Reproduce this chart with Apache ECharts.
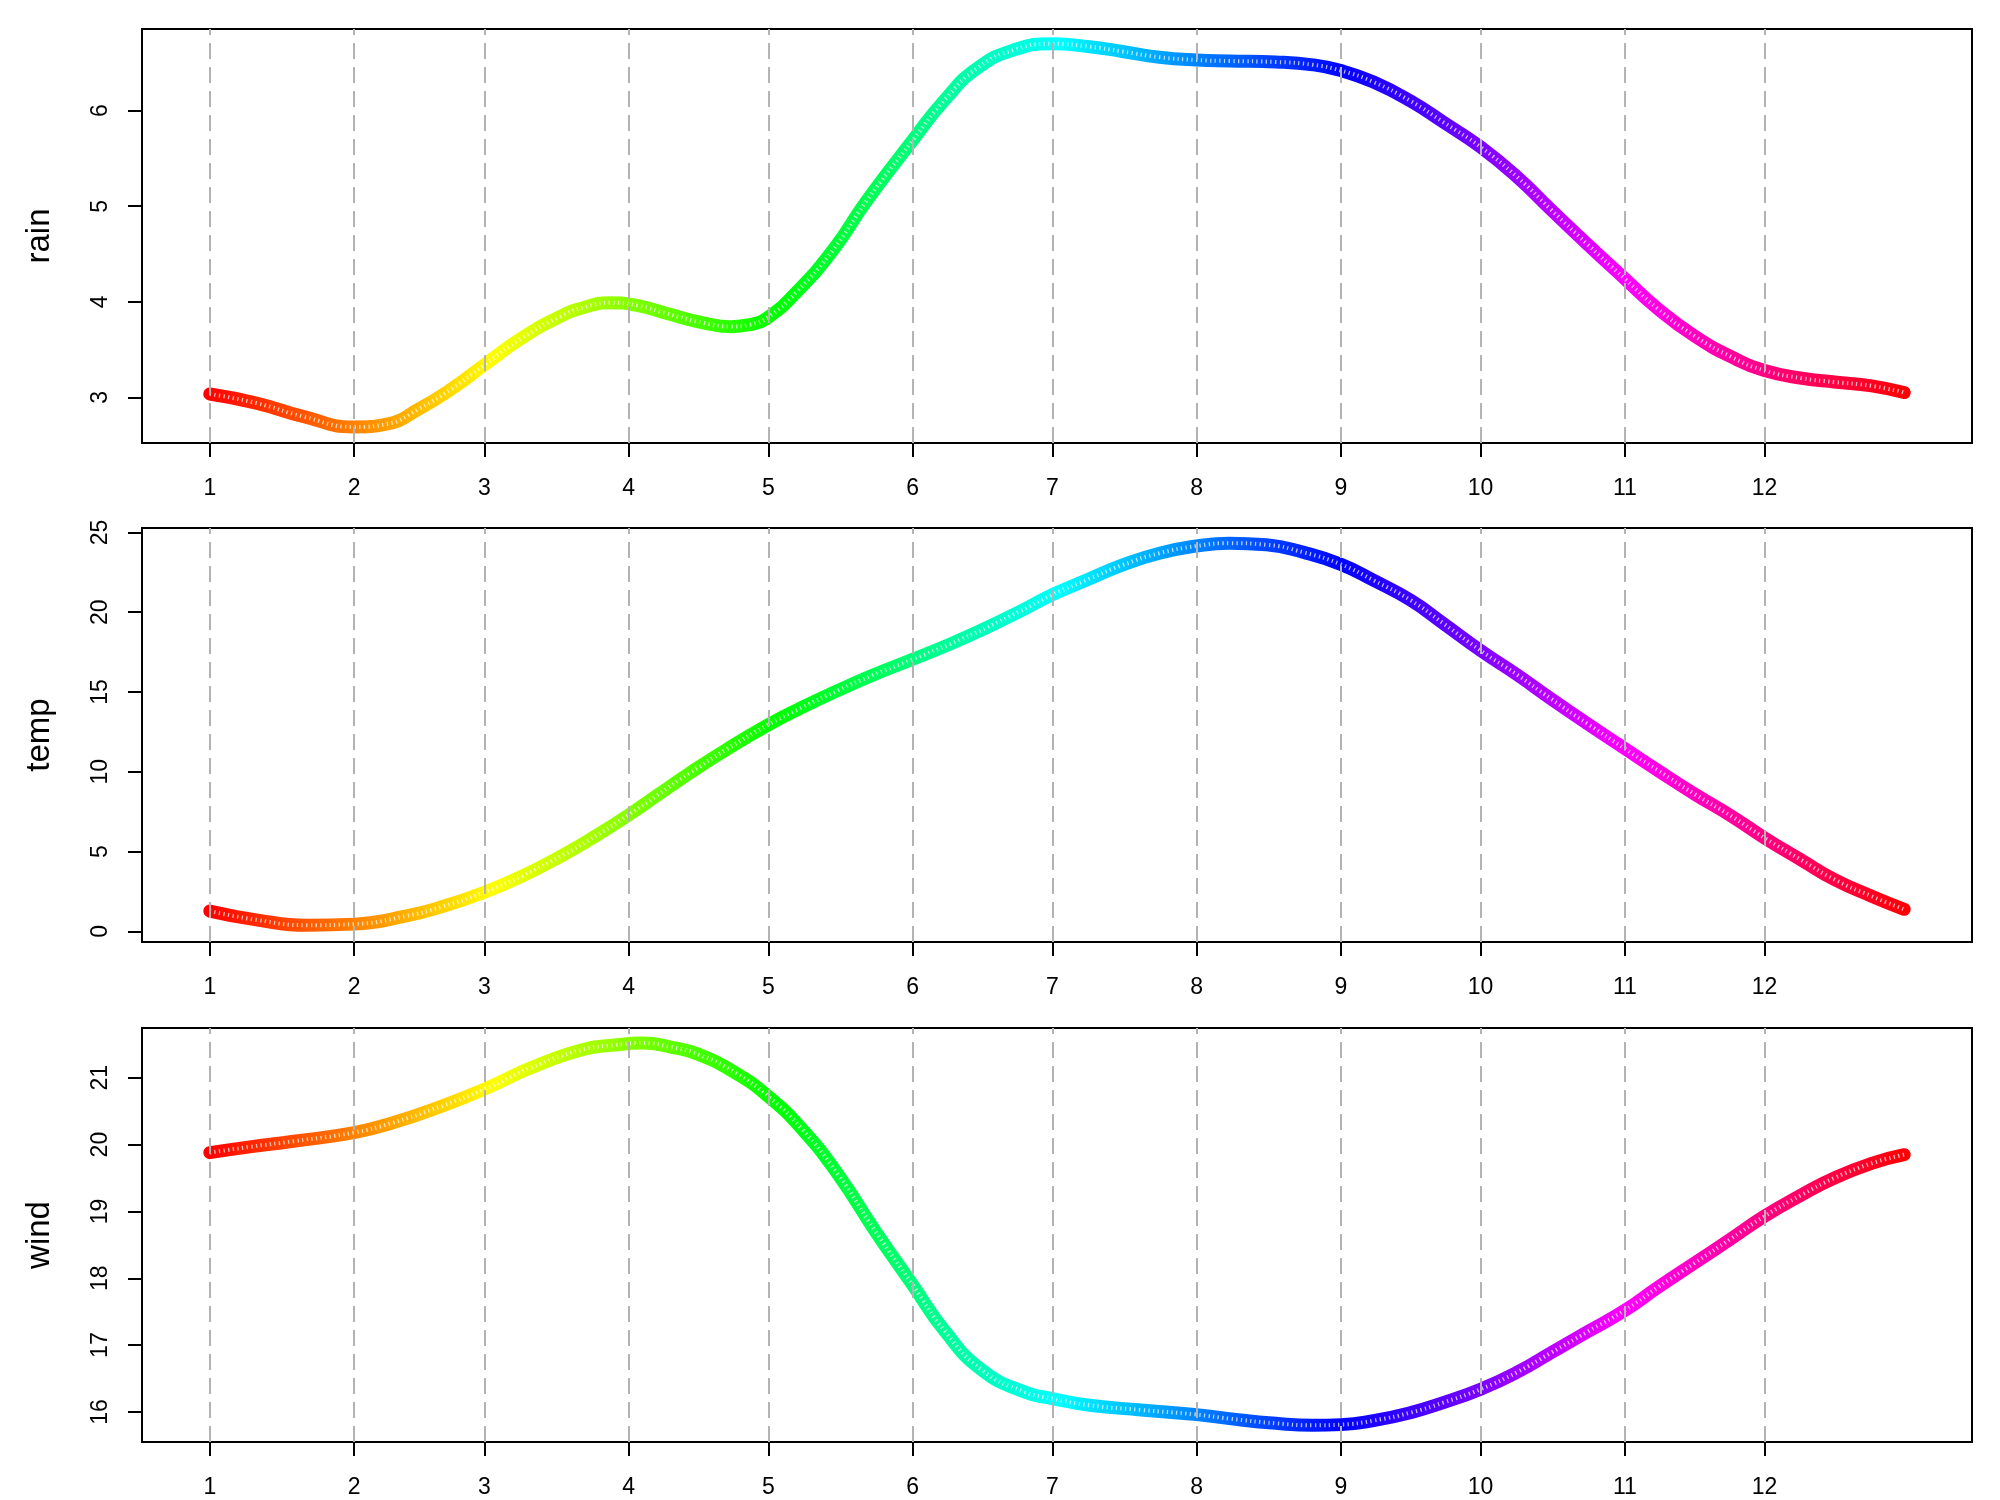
<!DOCTYPE html>
<html>
<head>
<meta charset="utf-8">
<script src="https://cdn.jsdelivr.net/npm/echarts@6/dist/echarts.min.js"></script>
<style>html,body{margin:0;padding:0;background:#fff}#c{width:2000px;height:1500px}</style>
</head>
<body>
<div id="c"></div>
<script>
// month starts (day of year) and their tick labels
const monthStarts = [1, 32, 60, 91, 121, 152, 182, 213, 244, 274, 305, 335];
const monthLabels = ['1','2','3','4','5','6','7','8','9','10','11','12'];

// rain
const rainDays = [1,11,21,32,39,46,53,60,68,76,82,87,93,99,107,113,117,121,127,135,142,152,159,166,174,182,190,197,205,213,220,230,238,244,251,259,266,274,282,289,297,305,312,320,328,335,343,350,358,365];
const rain     = [3.035,2.94,2.80,2.69,2.72,2.88,3.09,3.34,3.62,3.84,3.95,3.99,3.96,3.88,3.78,3.74,3.76,3.84,4.1,4.55,5.05,5.69,6.12,6.45,6.64,6.70,6.67,6.62,6.56,6.53,6.52,6.51,6.48,6.42,6.30,6.10,5.88,5.62,5.30,4.97,4.60,4.24,3.93,3.64,3.42,3.28,3.20,3.16,3.12,3.05];

// temp
const tempDays = [1,11,22,32,43,51,60,68,77,84,91,97,104,112,121,128,136,143,152,160,168,175,182,190,197,205,213,220,228,236,244,251,259,266,274,282,289,297,305,312,320,328,335,343,350,358,365];
const temp     = [1.27,0.72,0.38,0.45,0.95,1.55,2.45,3.45,4.8,6.0,7.3,8.5,9.9,11.4,12.95,14.0,15.1,16.0,17.05,18.0,19.05,20.05,21.1,22.1,22.95,23.7,24.15,24.33,24.23,23.75,23.0,22.0,20.75,19.3,17.6,16.05,14.6,13.0,11.45,10.1,8.6,7.2,5.85,4.45,3.25,2.2,1.38];

// wind
const windDays = [1,10,19,32,40,51,60,70,81,88,94,100,106,114,121,128,136,144,152,159,167,176,182,190,201,213,220,230,238,244,251,259,266,274,282,289,297,305,312,320,328,335,343,350,358,365];
const wind     = [19.88,19.97,20.05,20.18,20.32,20.58,20.83,21.15,21.42,21.49,21.52,21.46,21.35,21.07,20.72,20.25,19.55,18.7,17.9,17.2,16.62,16.3,16.2,16.1,16.03,15.96,15.9,15.83,15.80,15.81,15.87,15.99,16.14,16.34,16.6,16.88,17.2,17.52,17.86,18.23,18.6,18.93,19.25,19.5,19.72,19.85];

const rainTicks = [3,4,5,6];
const tempTicks = [0,5,10,15,20,25];
const windTicks = [16,17,18,19,20,21];

const panels = [
  {name:'rain', days:rainDays, vals:rain, ticks:rainTicks, min:2.522, max:6.855, top:29},
  {name:'temp', days:tempDays, vals:temp, ticks:tempTicks, min:-0.67, max:25.28, top:528},
  {name:'wind', days:windDays, vals:wind, ticks:windTicks, min:15.55, max:21.745, top:1028}
];

const FONT = 'Liberation Sans, Arial, Helvetica, sans-serif';
const grids = [], xAxes = [], yAxes = [], series = [], colorIdx = [];
panels.forEach((p, i) => {
  grids.push({left:142, right:28, top:p.top, height:414, show:true, borderColor:'#000', borderWidth:2, backgroundColor:'transparent'});
  xAxes.push({
    gridIndex:i, type:'value', min:-13.56, max:379.56,
    axisLine:{show:false, onZero:false}, splitLine:{show:false},
    axisTick:{show:true, customValues:monthStarts, length:14, lineStyle:{color:'#000', width:2}},
    axisLabel:{customValues:monthStarts, formatter:v => monthLabels[monthStarts.indexOf(v)], fontSize:23, color:'#000', margin:34, fontFamily:FONT}
  });
  yAxes.push({
    gridIndex:i, type:'value', min:p.min, max:p.max,
    name:p.name, nameLocation:'middle', nameGap:86, nameRotate:90,
    nameTextStyle:{fontSize:33, color:'#000', fontFamily:FONT},
    axisLine:{show:false, onZero:false}, splitLine:{show:false},
    axisTick:{show:true, customValues:p.ticks, length:14, lineStyle:{color:'#000', width:2}},
    axisLabel:{customValues:p.ticks, rotate:90, fontSize:23, color:'#000', margin:30, fontFamily:FONT}
  });
  const data = p.days.map((d, j) => [d, p.vals[j]]);
  colorIdx.push(series.length);
  series.push({
    type:'line', xAxisIndex:i, yAxisIndex:i, data:data, smooth:true,
    showSymbol:false, symbol:'none', silent:true, z:2,
    lineStyle:{width:13, cap:'round', join:'round'}
  });
  series.push({
    type:'line', xAxisIndex:i, yAxisIndex:i, data:data, smooth:true,
    showSymbol:false, symbol:'none', silent:true, z:3,
    lineStyle:{width:4, color:'#ffffff', opacity:0.7, type:[1.3, 3.35], cap:'butt'},
    markLine:{
      silent:true, symbol:['none','none'], label:{show:false},
      lineStyle:{color:'#b3b3b3', width:2, type:[16, 8]},
      emphasis:{disabled:true},
      data: monthStarts.map(d => ({xAxis:d}))
    }
  });
});

const chart = echarts.init(document.getElementById('c'), null, {renderer:'canvas'});
chart.setOption({
  animation:false,
  backgroundColor:'#fff',
  grid:grids, xAxis:xAxes, yAxis:yAxes,
  visualMap:{
    type:'continuous', show:false, dimension:0, min:1, max:366, seriesIndex:colorIdx,
    inRange:{color:['#ff0000','#ffff00','#00ff00','#00ffff','#0000ff','#ff00ff','#ff0000']}
  },
  series:series
});
</script>
</body>
</html>
